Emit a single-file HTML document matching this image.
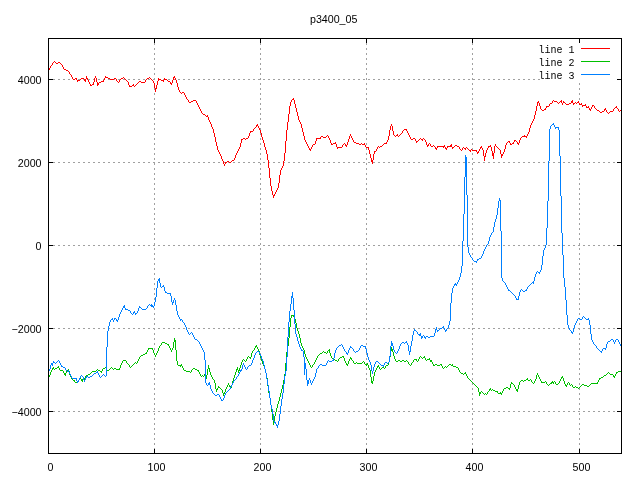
<!DOCTYPE html>
<html><head><meta charset="utf-8"><title>p3400_05</title>
<style>
html,body{margin:0;padding:0;background:#fff;}
body{width:640px;height:480px;overflow:hidden;font-family:"Liberation Sans",sans-serif;}
svg{display:block;}
</style></head><body>
<svg width="640" height="480" viewBox="0 0 640 480">
<rect x="0" y="0" width="640" height="480" fill="#fff"/>
<g stroke="#a0a0a0" stroke-width="1" stroke-dasharray="2 3" fill="none" shape-rendering="crispEdges">
<line x1="48" y1="79.5" x2="622" y2="79.5"/>
<line x1="48" y1="162.5" x2="622" y2="162.5"/>
<line x1="48" y1="245.5" x2="622" y2="245.5"/>
<line x1="48" y1="328.5" x2="622" y2="328.5"/>
<line x1="48" y1="411.5" x2="622" y2="411.5"/>
<line x1="154.5" y1="38" x2="154.5" y2="454"/>
<line x1="260.5" y1="38" x2="260.5" y2="454"/>
<line x1="366.5" y1="38" x2="366.5" y2="454"/>
<line x1="472.5" y1="38" x2="472.5" y2="454"/>
<line x1="579.5" y1="38" x2="579.5" y2="454"/>
</g>
<rect x="540" y="43" width="75" height="38" fill="#fff" shape-rendering="crispEdges"/>
<path fill="#ff0000" shape-rendering="crispEdges" d="M49 68h1v2h-1zM50 66h1v2h-1zM51 65h1v1h-1zM52 63h1v2h-1zM53 62h1v1h-1zM54 61h1v1h-1zM55 62h1v1h-1zM56 63h2v1h-2zM58 62h2v1h-2zM60 63h1v1h-1zM61 64h1v1h-1zM62 65h1v2h-1zM63 67h1v2h-1zM64 69h2v1h-2zM66 70h2v1h-2zM68 71h1v1h-1zM69 72h1v2h-1zM70 74h1v1h-1zM71 75h1v2h-1zM72 77h1v2h-1zM73 79h2v1h-2zM75 78h2v1h-2zM76 79h1v1h-1zM77 80h3v1h-3zM77 81h1v1h-1zM80 79h1v1h-1zM81 78h3v1h-3zM84 79h2v1h-2zM84 80h2v1h-2zM85 81h1v1h-1zM86 76h1v2h-1zM86 78h2v1h-2zM87 79h1v1h-1zM88 80h1v2h-1zM89 82h1v2h-1zM90 84h1v1h-1zM90 85h2v1h-2zM92 84h2v1h-2zM93 82h1v2h-1zM94 78h1v4h-1zM95 76h1v2h-1zM96 78h1v4h-1zM97 82h1v1h-1zM97 83h2v1h-2zM97 84h2v1h-2zM97 85h1v1h-1zM99 82h2v1h-2zM101 81h3v1h-3zM103 80h1v1h-1zM104 78h1v2h-1zM105 76h1v1h-1zM105 77h3v1h-3zM108 78h2v1h-2zM110 79h4v1h-4zM114 78h2v1h-2zM116 79h1v2h-1zM117 81h1v1h-1zM118 82h1v1h-1zM119 80h1v2h-1zM120 79h1v1h-1zM121 78h2v1h-2zM123 77h1v1h-1zM124 78h1v1h-1zM125 79h1v1h-1zM126 80h1v1h-1zM127 81h1v1h-1zM128 82h1v3h-1zM129 85h1v1h-1zM129 86h3v1h-3zM132 85h2v1h-2zM133 84h1v1h-1zM134 86h1v1h-1zM135 85h1v1h-1zM136 84h1v1h-1zM137 83h1v1h-1zM138 82h1v1h-1zM139 81h2v1h-2zM141 82h4v1h-4zM145 80h1v2h-1zM146 79h1v1h-1zM147 78h2v1h-2zM149 77h1v1h-1zM150 78h1v1h-1zM151 79h1v1h-1zM152 80h1v1h-1zM153 81h1v2h-1zM154 83h1v5h-1zM155 88h2v1h-2zM155 89h1v3h-1zM156 85h1v3h-1zM157 81h1v4h-1zM158 78h1v1h-1zM158 79h3v1h-3zM158 80h1v1h-1zM161 80h3v1h-3zM163 81h1v1h-1zM164 78h1v1h-1zM164 79h3v1h-3zM167 80h1v1h-1zM168 81h2v1h-2zM170 82h1v1h-1zM170 83h2v1h-2zM171 84h1v1h-1zM172 80h1v3h-1zM173 77h2v1h-2zM173 78h1v2h-1zM174 76h1v1h-1zM175 78h1v2h-1zM176 80h1v3h-1zM177 83h1v4h-1zM178 87h1v3h-1zM179 90h1v2h-1zM180 92h1v1h-1zM181 93h1v1h-1zM182 92h2v1h-2zM184 93h1v2h-1zM185 95h1v2h-1zM186 97h1v2h-1zM187 99h1v1h-1zM188 100h1v2h-1zM189 102h2v1h-2zM191 101h2v1h-2zM193 100h3v1h-3zM196 101h1v2h-1zM197 103h1v2h-1zM198 105h1v2h-1zM199 107h1v2h-1zM200 109h1v2h-1zM201 111h1v2h-1zM202 113h1v1h-1zM203 114h2v1h-2zM205 115h1v1h-1zM206 116h2v1h-2zM207 115h1v1h-1zM208 117h1v3h-1zM209 120h1v2h-1zM210 122h1v2h-1zM211 124h1v3h-1zM212 127h1v2h-1zM213 129h1v4h-1zM214 133h1v4h-1zM215 137h1v5h-1zM216 142h1v4h-1zM217 146h1v4h-1zM218 150h1v2h-1zM219 152h1v2h-1zM220 154h1v2h-1zM221 156h1v3h-1zM222 159h1v2h-1zM223 161h1v3h-1zM224 164h1v2h-1zM225 162h2v1h-2zM225 163h1v1h-1zM227 161h2v1h-2zM229 162h2v1h-2zM231 161h1v1h-1zM232 160h2v1h-2zM234 158h1v2h-1zM235 155h1v3h-1zM236 153h1v2h-1zM237 151h1v2h-1zM238 149h1v2h-1zM239 147h1v2h-1zM240 143h1v4h-1zM241 139h2v1h-2zM241 140h1v3h-1zM243 138h2v1h-2zM245 139h1v1h-1zM246 138h2v1h-2zM248 136h1v2h-1zM249 133h1v3h-1zM250 131h3v1h-3zM250 132h1v1h-1zM253 129h1v2h-1zM254 128h1v1h-1zM255 127h1v1h-1zM256 125h2v1h-2zM256 126h1v1h-1zM257 124h1v1h-1zM258 126h1v2h-1zM259 128h1v2h-1zM260 130h1v3h-1zM261 133h1v4h-1zM262 137h1v3h-1zM263 140h1v3h-1zM264 143h1v4h-1zM265 147h1v3h-1zM266 150h1v4h-1zM267 154h1v6h-1zM268 160h1v8h-1zM269 168h1v10h-1zM270 178h1v8h-1zM271 186h1v5h-1zM272 191h1v4h-1zM273 195h2v1h-2zM273 196h1v2h-1zM274 194h1v1h-1zM275 192h1v2h-1zM276 190h1v2h-1zM277 188h1v2h-1zM278 183h1v5h-1zM279 175h1v8h-1zM280 170h1v5h-1zM281 168h1v2h-1zM282 166h1v2h-1zM283 161h1v5h-1zM284 153h1v8h-1zM285 141h1v12h-1zM286 130h1v11h-1zM287 122h1v8h-1zM288 114h1v8h-1zM289 106h1v8h-1zM290 102h1v4h-1zM291 100h1v2h-1zM292 99h2v1h-2zM293 98h1v1h-1zM294 100h1v4h-1zM295 104h1v4h-1zM296 108h1v4h-1zM297 112h1v4h-1zM298 116h1v4h-1zM299 120h1v2h-1zM300 122h1v2h-1zM301 124h1v4h-1zM302 128h1v4h-1zM303 132h1v4h-1zM304 136h1v4h-1zM305 140h1v2h-1zM306 142h1v2h-1zM307 144h1v2h-1zM308 146h1v2h-1zM309 148h1v1h-1zM309 149h2v1h-2zM310 150h1v1h-1zM311 147h1v2h-1zM312 145h1v2h-1zM313 144h2v1h-2zM315 141h1v3h-1zM316 138h5v1h-5zM316 139h1v2h-1zM320 137h1v1h-1zM321 136h2v1h-2zM323 137h3v1h-3zM326 136h1v1h-1zM327 135h1v1h-1zM328 136h1v2h-1zM329 138h1v2h-1zM330 140h1v3h-1zM331 143h1v1h-1zM331 144h2v1h-2zM333 143h3v1h-3zM335 142h1v1h-1zM336 144h1v3h-1zM337 147h5v1h-5zM337 148h1v1h-1zM342 145h1v2h-1zM343 144h1v1h-1zM344 143h1v1h-1zM345 144h1v1h-1zM345 145h2v1h-2zM346 146h1v1h-1zM347 142h1v3h-1zM348 139h1v3h-1zM349 136h1v3h-1zM350 134h1v2h-1zM351 136h1v2h-1zM352 138h1v2h-1zM353 140h1v2h-1zM354 142h2v1h-2zM356 143h3v1h-3zM359 144h2v1h-2zM361 143h1v1h-1zM362 144h3v1h-3zM364 143h1v1h-1zM365 145h1v2h-1zM366 147h3v1h-3zM368 148h1v2h-1zM369 150h1v4h-1zM370 154h1v4h-1zM371 158h1v2h-1zM371 160h2v1h-2zM371 161h2v1h-2zM372 162h1v2h-1zM373 154h1v6h-1zM374 151h2v1h-2zM374 152h1v2h-1zM376 149h1v2h-1zM377 147h1v2h-1zM378 146h1v1h-1zM379 147h1v1h-1zM380 146h2v1h-2zM382 145h1v1h-1zM383 144h1v1h-1zM384 143h3v1h-3zM386 142h1v1h-1zM387 140h1v2h-1zM388 136h1v4h-1zM389 130h1v6h-1zM390 126h1v4h-1zM391 124h1v2h-1zM392 126h1v5h-1zM393 131h1v4h-1zM394 135h1v1h-1zM395 136h1v1h-1zM396 135h2v1h-2zM397 134h1v1h-1zM398 136h1v1h-1zM399 135h1v1h-1zM400 134h1v1h-1zM401 133h1v1h-1zM402 131h1v2h-1zM403 130h1v1h-1zM404 129h3v1h-3zM406 130h1v1h-1zM407 131h1v2h-1zM408 133h1v2h-1zM409 135h1v2h-1zM410 137h1v2h-1zM411 139h2v1h-2zM413 138h2v1h-2zM415 139h1v2h-1zM416 141h2v1h-2zM416 142h1v1h-1zM418 140h1v1h-1zM419 139h1v1h-1zM420 138h1v1h-1zM421 139h2v1h-2zM422 140h1v1h-1zM423 138h1v1h-1zM424 139h1v1h-1zM425 140h1v2h-1zM426 142h1v3h-1zM427 145h2v1h-2zM427 146h1v1h-1zM428 144h1v1h-1zM429 143h1v1h-1zM430 144h1v2h-1zM431 146h2v1h-2zM433 145h1v1h-1zM434 146h1v1h-1zM435 147h1v1h-1zM435 148h2v1h-2zM436 149h1v1h-1zM437 146h8v1h-8zM437 147h1v1h-1zM443 147h1v1h-1zM444 145h1v1h-1zM445 147h1v1h-1zM445 148h2v1h-2zM446 149h1v1h-1zM447 146h5v1h-5zM447 147h1v1h-1zM450 145h2v1h-2zM451 144h1v1h-1zM452 147h2v1h-2zM452 148h1v1h-1zM454 146h1v1h-1zM455 145h2v1h-2zM457 146h2v1h-2zM459 147h1v2h-1zM460 149h1v1h-1zM461 150h1v1h-1zM462 148h1v2h-1zM463 147h1v1h-1zM464 148h2v1h-2zM465 149h1v1h-1zM466 147h1v1h-1zM467 148h1v1h-1zM468 149h1v1h-1zM469 150h2v1h-2zM470 151h1v1h-1zM471 149h1v1h-1zM472 150h5v1h-5zM476 151h1v1h-1zM477 152h2v1h-2zM477 153h1v1h-1zM478 151h1v1h-1zM479 149h1v2h-1zM480 147h2v1h-2zM480 148h1v1h-1zM481 146h1v1h-1zM482 148h1v2h-1zM483 150h1v6h-1zM484 156h2v1h-2zM484 157h1v4h-1zM485 153h1v3h-1zM486 150h1v3h-1zM487 148h1v2h-1zM488 146h3v1h-3zM488 147h1v1h-1zM490 145h1v1h-1zM491 147h1v4h-1zM492 151h1v2h-1zM492 153h2v1h-2zM492 154h2v1h-2zM492 155h2v1h-2zM493 156h1v3h-1zM494 146h1v7h-1zM495 144h1v2h-1zM496 146h1v1h-1zM497 147h1v1h-1zM498 148h1v1h-1zM499 149h1v1h-1zM500 150h1v4h-1zM501 154h2v1h-2zM501 155h2v1h-2zM501 156h1v2h-1zM503 152h1v2h-1zM504 149h1v3h-1zM505 145h1v4h-1zM506 143h1v2h-1zM507 142h1v1h-1zM508 141h2v1h-2zM509 142h1v1h-1zM510 143h1v1h-1zM510 144h2v1h-2zM512 143h2v1h-2zM513 142h1v1h-1zM514 140h2v1h-2zM514 141h1v1h-1zM516 141h1v1h-1zM517 142h1v1h-1zM517 143h2v1h-2zM518 144h1v1h-1zM519 140h1v3h-1zM520 138h1v2h-1zM521 137h1v1h-1zM522 136h5v1h-5zM524 135h1v1h-1zM526 137h1v1h-1zM527 134h1v2h-1zM528 132h1v2h-1zM529 128h1v4h-1zM530 125h1v3h-1zM531 123h1v2h-1zM532 121h1v2h-1zM533 119h1v2h-1zM534 115h1v4h-1zM535 111h1v4h-1zM536 106h1v5h-1zM537 102h2v1h-2zM537 103h1v3h-1zM538 101h1v1h-1zM539 103h1v3h-1zM540 106h1v3h-1zM541 109h1v1h-1zM542 110h2v1h-2zM544 109h2v1h-2zM545 108h1v1h-1zM546 106h3v1h-3zM546 107h1v1h-1zM549 104h1v2h-1zM550 103h2v1h-2zM552 101h1v2h-1zM553 100h1v1h-1zM554 101h3v1h-3zM557 102h1v1h-1zM558 103h1v1h-1zM559 102h1v1h-1zM560 101h2v1h-2zM561 100h1v1h-1zM561 102h1v1h-1zM562 103h1v2h-1zM563 101h1v1h-1zM563 102h2v1h-2zM565 103h1v1h-1zM566 104h3v1h-3zM569 103h2v1h-2zM571 101h2v1h-2zM571 102h2v1h-2zM572 100h1v1h-1zM573 103h2v1h-2zM573 104h1v1h-1zM575 102h1v1h-1zM576 103h1v1h-1zM577 102h2v1h-2zM578 101h1v1h-1zM579 103h1v1h-1zM579 104h3v1h-3zM581 103h1v1h-1zM582 105h4v1h-4zM582 106h1v1h-1zM585 104h1v1h-1zM586 106h1v1h-1zM586 107h3v1h-3zM588 106h1v1h-1zM589 108h1v1h-1zM589 109h2v1h-2zM590 110h1v1h-1zM591 107h1v2h-1zM592 105h2v1h-2zM592 106h1v1h-1zM594 106h1v2h-1zM595 108h1v1h-1zM596 109h1v1h-1zM597 110h2v1h-2zM599 111h1v1h-1zM600 112h2v1h-2zM602 111h2v1h-2zM604 109h2v1h-2zM604 110h1v1h-1zM605 108h1v1h-1zM606 110h1v2h-1zM607 112h1v1h-1zM608 113h1v1h-1zM609 112h1v1h-1zM610 111h3v1h-3zM613 109h1v2h-1zM614 108h1v1h-1zM615 107h2v1h-2zM616 106h1v1h-1zM617 108h1v1h-1zM618 109h1v2h-1zM619 111h1v1h-1zM620 110h1v1h-1zM621 109h1v1h-1z"/>
<path fill="#00c000" shape-rendering="crispEdges" d="M49 375h1v2h-1zM50 372h1v3h-1zM51 370h1v2h-1zM52 368h2v1h-2zM52 369h1v1h-1zM53 367h1v1h-1zM54 369h1v1h-1zM55 368h2v1h-2zM57 367h2v1h-2zM58 366h1v1h-1zM59 368h1v2h-1zM60 370h3v1h-3zM63 371h1v2h-1zM64 373h2v1h-2zM64 374h2v1h-2zM65 375h1v1h-1zM66 371h1v2h-1zM67 370h2v1h-2zM68 369h1v1h-1zM69 371h1v4h-1zM70 375h1v2h-1zM71 377h1v2h-1zM72 379h1v1h-1zM73 380h2v1h-2zM74 381h1v1h-1zM75 382h3v1h-3zM78 380h1v2h-1zM79 379h1v1h-1zM80 378h1v1h-1zM81 379h2v1h-2zM81 380h2v1h-2zM82 381h1v1h-1zM83 377h1v1h-1zM83 378h2v1h-2zM84 379h1v1h-1zM85 376h1v2h-1zM86 375h2v1h-2zM87 376h1v1h-1zM88 374h2v1h-2zM90 373h1v1h-1zM91 372h1v1h-1zM92 371h4v1h-4zM96 370h1v1h-1zM97 369h1v1h-1zM98 370h2v1h-2zM100 371h2v1h-2zM101 372h1v1h-1zM102 369h1v2h-1zM103 368h2v1h-2zM105 367h1v1h-1zM106 368h1v2h-1zM107 370h2v1h-2zM109 369h1v1h-1zM110 368h1v1h-1zM111 367h1v1h-1zM112 368h1v1h-1zM113 369h1v1h-1zM114 368h2v1h-2zM116 369h4v1h-4zM119 368h1v1h-1zM120 365h1v3h-1zM121 363h1v2h-1zM122 361h1v2h-1zM123 360h3v1h-3zM126 361h1v2h-1zM127 363h1v1h-1zM128 364h1v1h-1zM129 365h1v2h-1zM130 367h1v1h-1zM131 366h1v1h-1zM132 365h1v1h-1zM133 364h1v1h-1zM134 363h1v1h-1zM135 362h1v1h-1zM136 363h1v1h-1zM137 361h1v2h-1zM138 359h1v2h-1zM139 357h1v2h-1zM140 356h1v1h-1zM141 355h2v1h-2zM143 354h2v1h-2zM145 353h2v1h-2zM146 352h1v1h-1zM147 350h1v2h-1zM148 348h5v1h-5zM148 349h1v1h-1zM152 349h1v1h-1zM153 350h1v3h-1zM154 353h1v2h-1zM155 355h1v2h-1zM156 353h1v2h-1zM157 351h1v2h-1zM158 348h1v3h-1zM159 346h1v2h-1zM160 345h1v1h-1zM161 343h1v2h-1zM162 342h3v1h-3zM165 343h2v1h-2zM167 344h2v1h-2zM168 345h1v1h-1zM169 346h1v2h-1zM170 348h1v2h-1zM171 350h1v2h-1zM172 348h1v2h-1zM173 342h1v6h-1zM174 338h1v2h-1zM174 340h2v1h-2zM174 341h2v1h-2zM175 342h1v8h-1zM176 350h1v11h-1zM177 361h1v4h-1zM178 365h4v1h-4zM180 366h1v1h-1zM181 364h1v1h-1zM182 366h1v2h-1zM183 368h1v2h-1zM184 370h2v1h-2zM186 371h4v1h-4zM190 372h1v1h-1zM191 370h1v2h-1zM192 369h1v1h-1zM193 368h2v1h-2zM195 369h2v1h-2zM197 370h2v1h-2zM198 371h1v1h-1zM199 372h1v2h-1zM200 374h1v2h-1zM201 376h1v1h-1zM202 375h1v1h-1zM203 376h1v1h-1zM204 374h2v1h-2zM204 375h3v1h-3zM205 373h1v1h-1zM206 376h1v3h-1zM207 369h1v6h-1zM208 365h1v3h-1zM208 368h2v1h-2zM209 369h1v3h-1zM210 372h1v3h-1zM211 375h1v2h-1zM212 377h1v2h-1zM213 379h1v1h-1zM214 380h1v3h-1zM215 383h1v6h-1zM216 389h2v1h-2zM216 390h1v2h-1zM217 388h1v1h-1zM218 386h1v1h-1zM218 387h2v1h-2zM220 388h1v1h-1zM221 389h1v1h-1zM222 390h1v3h-1zM223 393h2v1h-2zM223 394h1v2h-1zM224 392h1v1h-1zM225 389h1v3h-1zM226 387h1v2h-1zM227 385h1v2h-1zM228 383h1v2h-1zM229 385h1v1h-1zM229 386h3v1h-3zM231 385h1v1h-1zM231 387h1v1h-1zM232 381h1v4h-1zM233 378h1v3h-1zM234 375h1v3h-1zM235 372h1v3h-1zM236 369h2v1h-2zM236 370h1v2h-1zM237 367h1v2h-1zM238 370h2v1h-2zM238 371h1v2h-1zM239 368h1v2h-1zM240 365h1v3h-1zM241 362h1v3h-1zM242 360h1v2h-1zM243 359h1v1h-1zM244 360h1v1h-1zM245 361h1v1h-1zM246 359h1v2h-1zM247 357h1v2h-1zM248 356h1v1h-1zM249 357h2v1h-2zM250 358h1v1h-1zM251 353h1v4h-1zM252 351h1v2h-1zM253 350h1v1h-1zM254 348h1v2h-1zM255 346h2v1h-2zM255 347h1v1h-1zM256 345h1v1h-1zM257 347h1v2h-1zM258 349h1v2h-1zM259 351h1v4h-1zM260 355h1v3h-1zM261 358h1v3h-1zM262 361h1v3h-1zM263 364h1v2h-1zM264 366h1v3h-1zM265 369h1v4h-1zM266 373h1v5h-1zM267 378h1v8h-1zM268 386h1v7h-1zM269 393h1v5h-1zM270 398h1v7h-1zM271 405h1v7h-1zM272 412h1v8h-1zM273 420h2v1h-2zM273 421h2v1h-2zM273 422h1v3h-1zM274 416h1v4h-1zM275 412h1v4h-1zM276 408h1v4h-1zM277 404h1v4h-1zM278 401h1v3h-1zM279 397h1v4h-1zM280 393h1v4h-1zM281 389h1v4h-1zM282 385h1v4h-1zM283 380h1v5h-1zM284 374h1v6h-1zM285 363h1v11h-1zM286 352h1v11h-1zM287 346h1v6h-1zM288 338h1v8h-1zM289 327h1v11h-1zM290 318h1v9h-1zM291 315h3v1h-3zM291 316h1v2h-1zM293 316h1v1h-1zM294 317h1v2h-1zM295 319h1v4h-1zM296 323h1v5h-1zM297 328h1v3h-1zM298 331h1v3h-1zM299 334h1v4h-1zM300 338h1v5h-1zM301 343h1v3h-1zM302 346h1v2h-1zM303 348h1v2h-1zM304 350h1v4h-1zM305 354h1v3h-1zM306 357h1v2h-1zM307 359h1v2h-1zM308 361h1v2h-1zM309 363h1v2h-1zM310 365h1v2h-1zM311 367h1v1h-1zM312 365h1v2h-1zM313 364h1v1h-1zM314 362h1v2h-1zM315 360h1v2h-1zM316 358h1v2h-1zM317 356h1v2h-1zM318 355h1v1h-1zM319 354h1v1h-1zM320 353h2v1h-2zM322 352h1v1h-1zM323 351h1v1h-1zM324 352h2v1h-2zM326 353h1v1h-1zM327 351h1v2h-1zM328 350h2v1h-2zM329 349h1v1h-1zM329 351h1v2h-1zM330 353h1v3h-1zM331 356h1v2h-1zM332 358h2v1h-2zM334 359h1v1h-1zM335 360h2v1h-2zM337 361h1v1h-1zM338 359h1v2h-1zM339 358h1v1h-1zM340 357h2v1h-2zM342 356h2v1h-2zM343 357h1v1h-1zM344 358h1v3h-1zM345 361h1v2h-1zM346 363h1v1h-1zM346 364h2v1h-2zM347 365h1v1h-1zM348 361h1v3h-1zM349 359h1v2h-1zM350 357h1v1h-1zM350 358h2v1h-2zM351 359h1v1h-1zM352 360h1v1h-1zM353 361h1v2h-1zM354 363h2v1h-2zM356 362h1v1h-1zM357 363h5v1h-5zM362 362h1v1h-1zM363 361h1v1h-1zM364 362h1v2h-1zM365 364h3v1h-3zM366 365h1v1h-1zM367 363h1v1h-1zM368 365h1v3h-1zM369 368h1v2h-1zM370 370h1v7h-1zM371 377h1v4h-1zM371 381h2v1h-2zM371 382h2v1h-2zM372 383h1v1h-1zM373 376h1v5h-1zM374 372h1v4h-1zM375 370h1v2h-1zM376 368h1v2h-1zM377 366h2v1h-2zM377 367h1v1h-1zM378 365h1v1h-1zM379 367h1v2h-1zM380 369h1v1h-1zM381 368h1v1h-1zM382 367h2v1h-2zM384 368h1v1h-1zM385 366h1v2h-1zM386 365h2v1h-2zM388 362h1v3h-1zM389 357h1v5h-1zM390 351h1v6h-1zM391 347h1v2h-1zM391 349h2v1h-2zM391 350h2v1h-2zM392 351h1v1h-1zM393 352h1v4h-1zM394 356h1v3h-1zM395 359h1v2h-1zM396 361h2v1h-2zM398 360h2v1h-2zM400 361h2v1h-2zM402 360h2v1h-2zM404 361h2v1h-2zM406 360h1v1h-1zM407 361h1v1h-1zM408 362h1v2h-1zM409 364h1v1h-1zM410 365h1v1h-1zM411 363h1v2h-1zM412 362h1v1h-1zM413 360h1v2h-1zM414 359h3v1h-3zM416 360h1v1h-1zM417 361h1v1h-1zM418 359h1v2h-1zM419 357h1v2h-1zM420 356h1v1h-1zM421 357h1v1h-1zM422 358h1v1h-1zM423 357h2v1h-2zM424 356h1v1h-1zM425 358h1v2h-1zM426 360h1v1h-1zM427 359h3v1h-3zM429 358h1v1h-1zM430 360h2v1h-2zM430 361h2v1h-2zM432 362h1v2h-1zM433 364h1v1h-1zM433 365h2v1h-2zM435 364h2v1h-2zM437 365h3v1h-3zM440 364h2v1h-2zM441 365h1v1h-1zM442 366h1v2h-1zM443 368h1v1h-1zM444 367h1v1h-1zM445 366h1v1h-1zM446 367h1v1h-1zM447 366h1v1h-1zM448 365h1v1h-1zM449 364h2v1h-2zM451 365h2v1h-2zM452 364h1v1h-1zM453 366h3v1h-3zM456 367h2v1h-2zM458 368h1v2h-1zM459 370h1v2h-1zM460 372h1v1h-1zM461 373h2v1h-2zM463 374h1v1h-1zM464 373h2v1h-2zM465 372h1v1h-1zM466 374h1v2h-1zM467 376h1v2h-1zM468 378h1v1h-1zM469 379h1v1h-1zM470 380h1v1h-1zM471 381h1v1h-1zM472 382h1v1h-1zM473 383h1v1h-1zM474 384h1v1h-1zM475 385h1v1h-1zM476 386h1v1h-1zM477 387h1v1h-1zM478 388h1v4h-1zM479 392h2v1h-2zM479 393h2v1h-2zM479 394h1v2h-1zM481 391h1v1h-1zM482 392h1v1h-1zM483 393h1v1h-1zM484 394h1v1h-1zM485 393h1v1h-1zM486 394h1v1h-1zM487 392h1v2h-1zM488 391h1v1h-1zM489 389h2v1h-2zM489 390h1v1h-1zM490 388h1v1h-1zM491 390h1v1h-1zM492 389h1v1h-1zM493 390h2v1h-2zM495 391h3v1h-3zM497 392h1v1h-1zM498 393h4v1h-4zM500 392h1v1h-1zM501 394h1v1h-1zM502 391h1v2h-1zM503 389h1v2h-1zM504 388h2v1h-2zM506 387h2v1h-2zM508 388h2v1h-2zM509 389h1v1h-1zM510 384h1v4h-1zM511 382h1v1h-1zM511 383h2v1h-2zM513 384h1v1h-1zM514 385h1v2h-1zM515 387h1v2h-1zM516 389h2v1h-2zM516 390h2v1h-2zM517 391h1v1h-1zM518 385h1v4h-1zM519 382h1v3h-1zM520 381h1v1h-1zM521 380h2v1h-2zM523 381h1v1h-1zM524 380h2v1h-2zM526 379h2v1h-2zM527 378h1v1h-1zM528 380h2v1h-2zM530 379h1v1h-1zM531 380h1v2h-1zM532 382h1v1h-1zM533 383h1v1h-1zM534 381h1v2h-1zM535 379h1v2h-1zM536 375h1v4h-1zM537 373h1v2h-1zM538 375h1v2h-1zM539 377h1v2h-1zM540 379h1v2h-1zM541 381h1v1h-1zM541 382h4v1h-4zM545 381h1v1h-1zM546 382h1v2h-1zM547 384h1v1h-1zM548 385h1v1h-1zM549 384h1v1h-1zM550 383h2v1h-2zM551 382h3v1h-3zM552 381h1v1h-1zM553 383h1v1h-1zM554 381h1v1h-1zM555 382h1v2h-1zM556 384h2v1h-2zM558 383h1v1h-1zM559 381h1v2h-1zM560 379h1v2h-1zM561 377h2v1h-2zM561 378h1v1h-1zM562 376h1v1h-1zM563 378h1v3h-1zM564 381h1v3h-1zM565 384h1v1h-1zM565 385h2v1h-2zM566 386h1v1h-1zM567 383h1v2h-1zM568 382h1v1h-1zM569 383h1v2h-1zM570 385h1v1h-1zM571 384h1v1h-1zM572 385h1v2h-1zM573 387h2v1h-2zM575 386h1v1h-1zM576 387h2v1h-2zM578 388h1v1h-1zM579 387h1v1h-1zM580 386h1v1h-1zM581 385h1v1h-1zM582 384h2v1h-2zM584 385h3v1h-3zM587 386h2v1h-2zM589 385h1v1h-1zM590 384h1v1h-1zM591 383h7v1h-7zM597 382h1v1h-1zM598 380h1v2h-1zM599 378h2v1h-2zM599 379h1v1h-1zM601 377h2v1h-2zM603 376h1v1h-1zM604 375h2v1h-2zM606 374h1v1h-1zM607 373h1v1h-1zM608 372h1v1h-1zM609 373h1v1h-1zM610 374h3v1h-3zM613 375h1v1h-1zM613 376h2v1h-2zM614 377h1v1h-1zM615 374h1v2h-1zM616 372h2v1h-2zM616 373h1v1h-1zM618 371h3v1h-3z"/>
<path fill="#0080ff" shape-rendering="crispEdges" d="M49 369h1v2h-1zM50 365h1v4h-1zM51 363h2v1h-2zM51 364h2v1h-2zM52 365h1v1h-1zM53 361h1v1h-1zM53 362h2v1h-2zM55 363h1v1h-1zM56 362h1v1h-1zM57 361h1v1h-1zM58 360h1v1h-1zM59 361h1v2h-1zM60 363h1v2h-1zM61 365h1v1h-1zM61 366h2v1h-2zM63 367h2v1h-2zM65 368h1v2h-1zM66 370h1v1h-1zM67 371h2v1h-2zM68 370h1v1h-1zM69 372h1v2h-1zM70 374h1v2h-1zM71 376h1v2h-1zM72 378h5v1h-5zM76 379h1v2h-1zM77 381h2v1h-2zM77 382h1v1h-1zM78 380h1v1h-1zM79 378h1v2h-1zM80 376h1v2h-1zM81 375h1v1h-1zM82 376h1v1h-1zM83 377h1v3h-1zM84 380h1v2h-1zM85 378h1v2h-1zM86 376h2v1h-2zM86 377h1v1h-1zM88 377h2v1h-2zM90 376h2v1h-2zM92 375h1v1h-1zM93 374h1v1h-1zM94 373h2v1h-2zM96 372h2v1h-2zM97 371h1v1h-1zM98 373h1v2h-1zM99 375h1v2h-1zM100 377h1v1h-1zM101 376h1v1h-1zM102 375h1v1h-1zM103 374h1v1h-1zM104 375h1v1h-1zM105 376h1v1h-1zM106 347h1v29h-1zM107 331h1v16h-1zM108 326h1v5h-1zM109 322h1v4h-1zM110 320h1v2h-1zM111 319h2v1h-2zM112 318h1v1h-1zM113 320h1v2h-1zM114 318h2v1h-2zM114 319h1v1h-1zM116 319h1v1h-1zM116 320h2v1h-2zM117 321h1v1h-1zM118 317h1v3h-1zM119 314h1v3h-1zM120 312h1v2h-1zM121 310h1v2h-1zM122 308h1v2h-1zM123 306h2v1h-2zM123 307h2v1h-2zM124 305h1v1h-1zM125 308h1v1h-1zM125 309h3v1h-3zM128 310h2v1h-2zM130 311h1v2h-1zM131 313h1v1h-1zM132 314h1v1h-1zM133 312h2v1h-2zM133 313h1v1h-1zM134 311h1v1h-1zM135 313h2v1h-2zM135 314h1v1h-1zM137 311h1v2h-1zM138 308h1v3h-1zM139 306h1v1h-1zM139 307h2v1h-2zM141 308h1v1h-1zM142 309h4v1h-4zM146 308h1v1h-1zM147 306h1v2h-1zM148 305h1v1h-1zM149 304h1v1h-1zM150 305h3v1h-3zM151 304h1v1h-1zM151 306h3v1h-3zM153 307h1v1h-1zM154 302h1v4h-1zM155 297h1v5h-1zM156 288h1v9h-1zM157 281h1v7h-1zM158 279h2v1h-2zM158 280h2v1h-2zM159 278h1v1h-1zM159 281h1v2h-1zM160 283h1v4h-1zM161 287h1v1h-1zM162 286h2v1h-2zM163 285h1v1h-1zM164 287h1v4h-1zM165 291h1v1h-1zM165 292h2v1h-2zM167 293h4v1h-4zM170 294h1v2h-1zM171 296h1v6h-1zM172 302h2v1h-2zM172 303h1v2h-1zM173 300h1v2h-1zM174 298h1v2h-1zM175 300h1v5h-1zM176 305h1v6h-1zM177 311h1v4h-1zM178 315h1v2h-1zM179 317h1v2h-1zM180 319h2v1h-2zM180 320h1v1h-1zM182 320h1v2h-1zM183 322h1v1h-1zM184 323h1v2h-1zM185 325h1v2h-1zM186 327h1v3h-1zM187 330h1v2h-1zM188 332h1v2h-1zM189 334h1v1h-1zM190 333h1v1h-1zM191 332h1v1h-1zM192 333h1v2h-1zM193 335h1v2h-1zM194 337h1v2h-1zM195 339h2v1h-2zM197 340h1v1h-1zM198 341h1v1h-1zM199 342h1v2h-1zM200 344h1v2h-1zM201 346h1v2h-1zM202 348h1v2h-1zM203 350h1v2h-1zM204 352h1v8h-1zM205 360h1v23h-1zM206 383h1v2h-1zM207 385h1v1h-1zM208 383h2v1h-2zM208 384h2v1h-2zM209 382h1v1h-1zM210 385h1v4h-1zM211 389h1v2h-1zM212 391h1v2h-1zM213 393h1v1h-1zM214 394h1v1h-1zM215 395h2v1h-2zM217 394h2v1h-2zM219 395h1v2h-1zM220 397h1v2h-1zM221 399h1v1h-1zM221 400h2v1h-2zM223 398h1v2h-1zM224 395h1v3h-1zM225 393h1v2h-1zM226 392h1v1h-1zM227 391h1v1h-1zM228 390h1v1h-1zM229 389h1v1h-1zM230 387h1v2h-1zM231 385h1v2h-1zM232 383h1v2h-1zM233 381h1v2h-1zM234 380h1v1h-1zM235 379h1v1h-1zM236 377h1v2h-1zM237 376h1v1h-1zM238 374h1v2h-1zM239 372h1v2h-1zM240 370h2v1h-2zM240 371h1v1h-1zM241 369h1v1h-1zM242 365h1v4h-1zM243 363h1v2h-1zM244 365h1v2h-1zM245 367h1v2h-1zM246 369h1v1h-1zM247 367h1v2h-1zM248 366h1v1h-1zM249 365h2v1h-2zM251 363h1v2h-1zM252 360h1v3h-1zM253 358h1v2h-1zM254 355h1v3h-1zM255 353h1v2h-1zM256 352h1v1h-1zM257 351h2v1h-2zM259 352h1v2h-1zM260 354h1v2h-1zM261 356h1v3h-1zM262 359h1v2h-1zM263 361h1v4h-1zM264 365h1v4h-1zM265 369h1v4h-1zM266 373h1v6h-1zM267 379h1v6h-1zM268 385h1v6h-1zM269 391h1v7h-1zM270 398h1v7h-1zM271 405h1v4h-1zM272 409h1v5h-1zM273 414h1v7h-1zM274 421h1v1h-1zM274 422h2v1h-2zM275 423h1v1h-1zM276 424h1v1h-1zM276 425h2v1h-2zM277 426h1v2h-1zM278 421h1v4h-1zM279 414h1v7h-1zM280 406h1v8h-1zM281 399h1v7h-1zM282 393h1v6h-1zM283 384h1v9h-1zM284 376h1v8h-1zM285 371h1v5h-1zM286 357h1v14h-1zM287 337h1v20h-1zM288 322h1v15h-1zM289 311h1v11h-1zM290 304h1v7h-1zM291 296h2v1h-2zM291 297h2v1h-2zM291 298h1v6h-1zM292 292h1v4h-1zM293 298h1v12h-1zM294 310h1v14h-1zM295 324h1v10h-1zM296 334h1v3h-1zM297 337h1v4h-1zM298 341h1v3h-1zM299 344h1v3h-1zM300 347h1v2h-1zM301 349h1v1h-1zM301 350h2v1h-2zM303 351h1v6h-1zM304 357h1v6h-1zM304 363h2v1h-2zM304 364h2v1h-2zM304 365h2v1h-2zM304 366h2v1h-2zM304 367h2v1h-2zM304 368h2v1h-2zM304 369h1v6h-1zM306 369h1v11h-1zM307 380h2v1h-2zM307 381h2v1h-2zM307 382h2v1h-2zM307 383h2v1h-2zM307 384h1v2h-1zM309 378h1v2h-1zM310 380h1v3h-1zM311 383h1v2h-1zM312 381h1v2h-1zM313 379h1v2h-1zM314 377h1v2h-1zM315 373h1v4h-1zM316 369h1v4h-1zM317 368h1v1h-1zM318 366h1v2h-1zM319 365h1v1h-1zM320 364h2v1h-2zM322 365h4v1h-4zM326 363h1v2h-1zM327 361h1v2h-1zM328 360h1v1h-1zM329 361h3v1h-3zM332 360h2v1h-2zM333 358h1v2h-1zM334 353h1v5h-1zM335 350h1v3h-1zM336 348h1v2h-1zM337 347h1v1h-1zM338 346h1v1h-1zM339 345h2v1h-2zM341 344h1v1h-1zM342 345h1v2h-1zM343 347h1v2h-1zM344 349h1v2h-1zM345 351h1v1h-1zM346 352h1v1h-1zM346 353h2v1h-2zM347 354h1v1h-1zM348 350h1v3h-1zM349 348h1v2h-1zM350 346h1v1h-1zM350 347h2v1h-2zM352 348h1v1h-1zM353 349h1v2h-1zM354 351h1v1h-1zM355 352h1v1h-1zM356 351h2v1h-2zM358 350h1v1h-1zM359 348h1v2h-1zM360 346h1v2h-1zM361 345h2v1h-2zM363 346h3v1h-3zM365 347h1v2h-1zM366 349h1v4h-1zM367 353h1v4h-1zM368 357h1v3h-1zM369 360h1v2h-1zM370 362h1v3h-1zM371 365h1v6h-1zM372 371h1v3h-1zM373 367h1v4h-1zM374 364h1v3h-1zM375 362h1v2h-1zM376 361h2v1h-2zM378 362h1v1h-1zM379 363h1v1h-1zM380 364h1v1h-1zM381 365h3v1h-3zM383 366h1v1h-1zM384 363h1v2h-1zM385 362h2v1h-2zM387 363h1v1h-1zM388 362h1v1h-1zM389 356h1v6h-1zM390 346h1v10h-1zM391 341h1v2h-1zM391 343h2v1h-2zM391 344h2v1h-2zM391 345h2v1h-2zM393 346h1v4h-1zM394 350h1v2h-1zM395 352h1v1h-1zM396 353h1v1h-1zM397 351h1v2h-1zM398 349h1v2h-1zM399 346h1v3h-1zM400 344h1v2h-1zM401 343h1v1h-1zM402 342h2v1h-2zM404 343h1v1h-1zM405 342h2v1h-2zM406 341h1v1h-1zM407 343h1v2h-1zM408 345h1v6h-1zM409 351h2v1h-2zM409 352h1v3h-1zM410 346h1v5h-1zM411 341h1v5h-1zM412 335h1v6h-1zM413 331h1v4h-1zM414 329h1v1h-1zM414 330h2v1h-2zM416 331h1v1h-1zM417 332h1v2h-1zM418 334h3v1h-3zM419 335h2v1h-2zM420 333h1v1h-1zM421 336h2v1h-2zM421 337h2v1h-2zM421 338h1v1h-1zM423 335h1v1h-1zM424 336h1v1h-1zM424 337h2v1h-2zM425 338h1v1h-1zM426 336h2v1h-2zM428 337h2v1h-2zM430 336h4v1h-4zM434 333h1v3h-1zM435 329h2v1h-2zM435 330h1v3h-1zM436 327h1v2h-1zM437 330h2v1h-2zM437 331h1v1h-1zM439 329h1v1h-1zM440 328h2v1h-2zM442 327h2v1h-2zM443 326h1v1h-1zM444 328h1v2h-1zM445 330h2v1h-2zM445 331h1v1h-1zM446 329h1v1h-1zM447 328h1v1h-1zM448 325h1v3h-1zM449 321h1v4h-1zM450 303h1v18h-1zM451 293h1v10h-1zM452 288h1v5h-1zM453 286h1v2h-1zM454 284h3v1h-3zM454 285h1v1h-1zM455 283h1v1h-1zM456 285h1v1h-1zM457 282h1v2h-1zM458 280h1v2h-1zM459 277h1v3h-1zM460 273h1v4h-1zM461 266h1v7h-1zM462 241h1v25h-1zM463 214h1v27h-1zM464 177h1v37h-1zM465 155h1v2h-1zM465 157h2v1h-2zM465 158h2v1h-2zM465 159h2v1h-2zM465 160h2v1h-2zM465 161h2v1h-2zM465 162h2v1h-2zM465 163h2v1h-2zM465 164h2v1h-2zM465 165h2v1h-2zM465 166h2v1h-2zM465 167h2v1h-2zM465 168h2v1h-2zM465 169h2v1h-2zM465 170h2v1h-2zM465 171h2v1h-2zM465 172h2v1h-2zM465 173h2v1h-2zM465 174h2v1h-2zM465 175h2v1h-2zM465 176h2v1h-2zM466 177h1v18h-1zM467 195h1v52h-1zM468 247h1v6h-1zM469 253h1v2h-1zM470 255h1v2h-1zM471 257h1v1h-1zM472 258h1v2h-1zM473 260h1v1h-1zM474 261h3v1h-3zM476 262h1v1h-1zM477 259h2v1h-2zM477 260h1v1h-1zM479 258h2v1h-2zM481 256h1v2h-1zM482 254h1v2h-1zM483 251h1v3h-1zM484 249h1v2h-1zM485 247h1v2h-1zM486 245h1v2h-1zM487 244h1v1h-1zM488 241h1v3h-1zM489 237h1v4h-1zM490 235h1v2h-1zM491 233h1v2h-1zM492 232h1v1h-1zM493 227h1v5h-1zM494 222h1v5h-1zM495 219h1v3h-1zM496 215h1v4h-1zM497 208h1v7h-1zM498 201h1v7h-1zM499 198h1v2h-1zM499 200h2v1h-2zM500 201h1v30h-1zM501 231h1v47h-1zM502 278h1v3h-1zM503 281h1v1h-1zM504 282h1v1h-1zM505 283h1v2h-1zM506 285h1v2h-1zM507 287h1v2h-1zM508 289h1v1h-1zM508 290h2v1h-2zM510 291h1v1h-1zM511 292h1v1h-1zM512 293h1v1h-1zM513 294h1v1h-1zM514 295h1v1h-1zM515 296h1v2h-1zM516 298h1v1h-1zM516 299h3v1h-3zM518 296h1v3h-1zM519 292h1v4h-1zM520 290h1v2h-1zM521 289h1v1h-1zM522 290h1v1h-1zM523 291h2v1h-2zM525 290h2v1h-2zM526 289h1v1h-1zM527 287h1v2h-1zM528 286h1v1h-1zM529 285h1v1h-1zM530 284h1v1h-1zM531 283h1v1h-1zM532 282h2v1h-2zM533 281h1v1h-1zM533 283h1v1h-1zM534 277h1v4h-1zM535 274h1v3h-1zM536 272h1v2h-1zM537 271h1v1h-1zM538 272h2v1h-2zM539 273h1v1h-1zM540 270h1v2h-1zM541 265h1v5h-1zM542 256h1v9h-1zM543 250h1v6h-1zM544 248h1v2h-1zM545 245h1v3h-1zM546 228h1v17h-1zM547 201h1v27h-1zM548 161h1v40h-1zM549 129h1v32h-1zM550 126h1v3h-1zM551 125h1v1h-1zM552 124h2v1h-2zM553 123h1v1h-1zM554 125h1v2h-1zM555 127h4v1h-4zM555 128h1v1h-1zM558 128h1v2h-1zM559 130h1v26h-1zM560 156h1v40h-1zM561 196h1v37h-1zM562 233h1v22h-1zM563 255h1v23h-1zM564 278h1v9h-1zM565 287h1v13h-1zM566 300h1v15h-1zM567 315h1v10h-1zM568 325h1v3h-1zM569 328h1v2h-1zM570 330h1v1h-1zM571 331h1v1h-1zM571 332h2v1h-2zM572 333h1v1h-1zM573 328h1v4h-1zM574 325h1v3h-1zM575 323h1v2h-1zM576 321h1v2h-1zM577 319h1v2h-1zM578 318h2v1h-2zM580 319h2v1h-2zM582 317h1v2h-1zM583 316h1v1h-1zM584 317h1v1h-1zM585 318h1v1h-1zM586 319h3v1h-3zM588 318h1v1h-1zM589 320h1v5h-1zM590 325h1v9h-1zM591 334h1v6h-1zM592 340h1v2h-1zM593 342h1v2h-1zM594 344h1v1h-1zM595 345h1v1h-1zM596 346h1v2h-1zM597 348h1v1h-1zM598 349h1v1h-1zM599 350h1v1h-1zM600 351h2v1h-2zM601 352h1v1h-1zM602 349h1v2h-1zM603 348h3v1h-3zM605 349h1v1h-1zM606 344h1v4h-1zM607 342h1v2h-1zM608 341h2v1h-2zM610 340h1v1h-1zM611 339h2v1h-2zM613 340h1v2h-1zM614 342h1v2h-1zM615 340h1v2h-1zM616 339h2v1h-2zM618 340h1v2h-1zM619 342h1v2h-1zM620 344h1v2h-1z"/>
<line x1="581" y1="48.5" x2="610" y2="48.5" stroke="#ff0000" stroke-width="1" shape-rendering="crispEdges"/>
<line x1="581" y1="61.5" x2="610" y2="61.5" stroke="#00c000" stroke-width="1" shape-rendering="crispEdges"/>
<line x1="581" y1="74.5" x2="610" y2="74.5" stroke="#0080ff" stroke-width="1" shape-rendering="crispEdges"/>
<g stroke="#000" stroke-width="1" fill="none" shape-rendering="crispEdges">
<rect x="48.5" y="38.5" width="573" height="415"/>
<line x1="48" y1="79.5" x2="53" y2="79.5"/>
<line x1="617" y1="79.5" x2="622" y2="79.5"/>
<line x1="48" y1="162.5" x2="53" y2="162.5"/>
<line x1="617" y1="162.5" x2="622" y2="162.5"/>
<line x1="48" y1="245.5" x2="53" y2="245.5"/>
<line x1="617" y1="245.5" x2="622" y2="245.5"/>
<line x1="48" y1="328.5" x2="53" y2="328.5"/>
<line x1="617" y1="328.5" x2="622" y2="328.5"/>
<line x1="48" y1="411.5" x2="53" y2="411.5"/>
<line x1="617" y1="411.5" x2="622" y2="411.5"/>
<line x1="48" y1="38.5" x2="53" y2="38.5"/>
<line x1="617" y1="38.5" x2="622" y2="38.5"/>
<line x1="48" y1="453.5" x2="53" y2="453.5"/>
<line x1="617" y1="453.5" x2="622" y2="453.5"/>
<line x1="154.5" y1="453" x2="154.5" y2="449"/>
<line x1="154.5" y1="38" x2="154.5" y2="43"/>
<line x1="260.5" y1="453" x2="260.5" y2="449"/>
<line x1="260.5" y1="38" x2="260.5" y2="43"/>
<line x1="366.5" y1="453" x2="366.5" y2="449"/>
<line x1="366.5" y1="38" x2="366.5" y2="43"/>
<line x1="472.5" y1="453" x2="472.5" y2="449"/>
<line x1="472.5" y1="38" x2="472.5" y2="43"/>
<line x1="579.5" y1="453" x2="579.5" y2="449"/>
<line x1="579.5" y1="38" x2="579.5" y2="43"/>
<line x1="48.5" y1="453" x2="48.5" y2="449"/>
<line x1="48.5" y1="38" x2="48.5" y2="43"/>
</g>
<g font-family="'Liberation Sans', sans-serif" font-size="10.67px" fill="#000" style="filter:grayscale(1)">
<text x="333.7" y="22.7" text-anchor="middle">p3400_05</text>
<text x="41.5" y="83.8" text-anchor="end">4000</text>
<text x="41.5" y="166.8" text-anchor="end">2000</text>
<text x="41.5" y="249.8" text-anchor="end">0</text>
<text x="41.5" y="332.8" text-anchor="end">−2000</text>
<text x="41.5" y="415.8" text-anchor="end">−4000</text>
<text x="50.5" y="470.7" text-anchor="middle">0</text>
<text x="156.5" y="470.7" text-anchor="middle">100</text>
<text x="262.5" y="470.7" text-anchor="middle">200</text>
<text x="368.5" y="470.7" text-anchor="middle">300</text>
<text x="474.5" y="470.7" text-anchor="middle">400</text>
<text x="581.5" y="470.7" text-anchor="middle">500</text>
</g>
<g font-family="'Liberation Mono', monospace" font-size="10px" fill="#000" style="filter:grayscale(1)">
<text x="574.6" y="52.8" text-anchor="end">line 1</text>
<text x="574.6" y="65.8" text-anchor="end">line 2</text>
<text x="574.6" y="78.8" text-anchor="end">line 3</text>
</g>
</svg>
</body></html>
